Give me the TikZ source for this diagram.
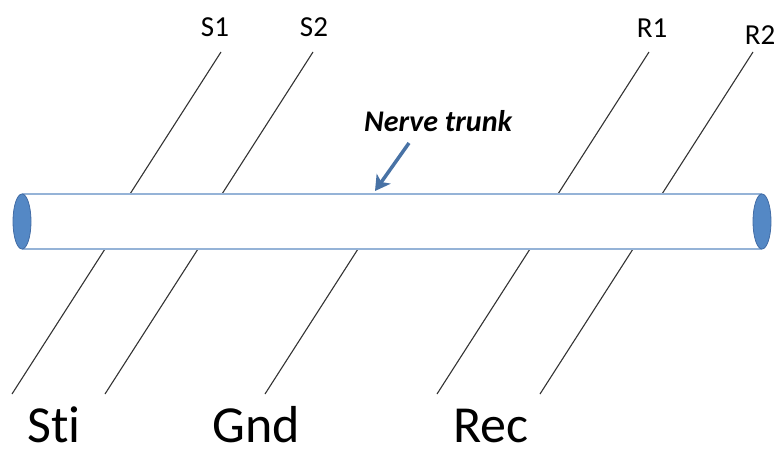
\documentclass[tikz,border=0pt]{standalone}
\usepackage{fontspec}
\setmainfont{Carlito}[Ligatures=NoCommon]
\usepackage{tikz}
\usetikzlibrary{arrows.meta}
\definecolor{tubeline}{RGB}{149,179,215}
\definecolor{capfill}{RGB}{84,136,197}
\definecolor{capline}{RGB}{66,108,165}
\definecolor{arrowblue}{RGB}{72,114,165}

\begin{document}
\begin{tikzpicture}[x=1pt,y=-1pt,
		electrode/.style={line width=1.1pt,black!80},
		big/.style={font=\fontsize{52}{58}\selectfont,anchor=base west,inner sep=0pt},
		small/.style={font=\fontsize{29}{32}\selectfont,anchor=base,inner sep=0pt}]
		\useasboundingbox (0,0) rectangle (777,455);
		% 绘制电极（神经干上方）
		\foreach \x in {130,222,558,662}
			\draw[electrode] (\x,194) -- ++(91,-142);
		% 绘制电极（神经干下方）
		\foreach \x in {105,198,358,530,633}
			\draw[electrode] (\x,249) -- ++(-93,145);
		% 绘制神经干
		\draw[tubeline,line width=1.8pt] (22,194) -- (762,194);
		\draw[tubeline,line width=1.8pt] (22,249) -- (762,249);
		\draw[capline,fill=capfill,line width=0.8pt] (22,221.5) ellipse [x radius=9,y radius=27.5];
		\draw[capline,fill=capfill,line width=0.8pt] (762,221.5) ellipse [x radius=9,y radius=27.5];
		% 标注
		\node[small] (s1) at (215,36) {S1};
		\node[small] (s2) at (314,36) {S2};
		\node[small] (r1) at (652,37) {R1};
		\node[small] (r2) at (760,45) {R2};
		\node[big] (sti) at (27,442) {Sti};
		\node[big] (gnd) at (212,442) {Gnd};
		\node[big] (rec) at (453,442) {Rec};
		\node[font=\fontsize{30}{34}\selectfont\bfseries\itshape,anchor=base west,inner sep=0pt] (nt) at (364,131) {Nerve trunk};
		\coordinate (tail) at (409,143);
		\coordinate (tip) at (375,191);
		\draw[arrowblue,line width=3.5pt,-{Stealth[length=15pt,width=17pt,inset=4pt]}] (tail) -- (tip);
	\end{tikzpicture}
\end{document}
